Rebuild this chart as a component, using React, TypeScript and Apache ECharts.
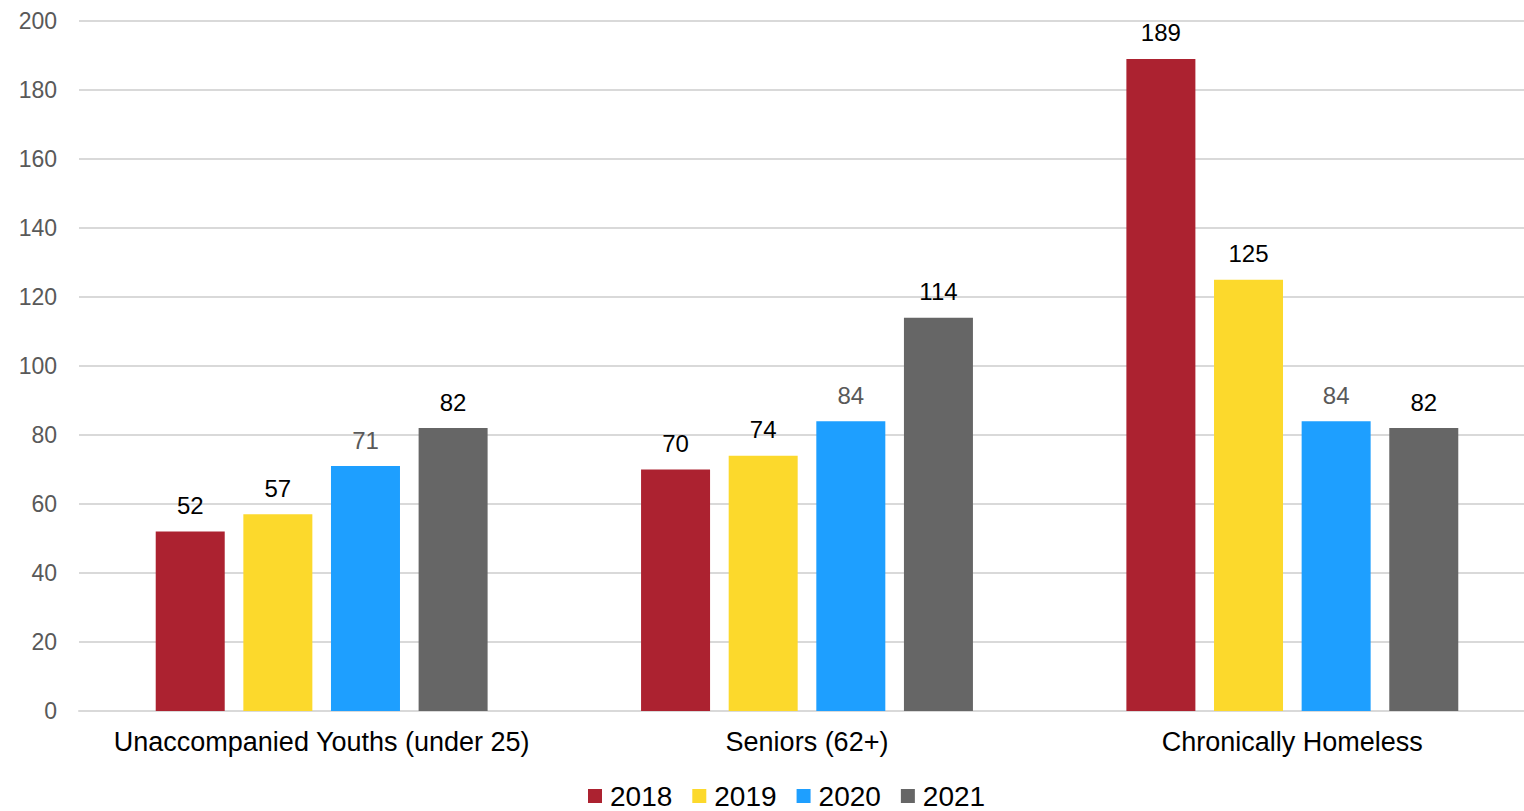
import React, { useEffect, useRef } from "react";
import * as echarts from "echarts";

const categories = ["Unaccompanied Youths (under 25)", "Seniors (62+)", "Chronically Homeless"];
const seriesNames = ["2018", "2019", "2020", "2021"];
const values2018 = [52, 70, 189];
const values2019 = [57, 74, 125];
const values2020 = [71, 84, 84];
const values2021 = [82, 114, 82];
const colors = ["#AC2230", "#FCD92C", "#1E9FFF", "#666666"];
const labelColors = ["#000000", "#000000", "#595959", "#000000"];
const yTicks = { min: 0, max: 200, interval: 20 };

const FONT = "'Liberation Sans', Arial, sans-serif";

export default function App() {
  const ref = useRef<HTMLDivElement>(null);
  useEffect(() => {
    document.body.style.margin = "0";
    document.body.style.overflow = "hidden";
    document.documentElement.style.overflow = "hidden";
    const chart = echarts.init(ref.current!, null, { renderer: "svg" });
    const allValues = [values2018, values2019, values2020, values2021];
    chart.setOption({
      animation: false,
      textStyle: { fontFamily: FONT },
      grid: { left: 79, right: 0, top: 21, bottom: 100, containLabel: false },
      legend: {
        top: 777,
        left: 583,
        itemWidth: 14,
        itemHeight: 14,
        itemGap: 20,
        icon: "rect",
        textStyle: { fontSize: 28, color: "#000", fontFamily: FONT, padding: [0, 0, 0, 3] },
        data: seriesNames,
      },
      xAxis: {
        type: "category",
        data: categories,
        axisLine: { show: true, lineStyle: { color: "#d9d9d9", width: 2 } },
        axisTick: { show: false },
        axisLabel: { interval: 0, fontSize: 27, color: "#000", margin: 17, fontFamily: FONT },
      },
      yAxis: {
        type: "value",
        min: yTicks.min,
        max: yTicks.max,
        interval: yTicks.interval,
        axisLine: { show: false },
        axisTick: { show: false },
        splitLine: { lineStyle: { color: "#d9d9d9", width: 2 } },
        axisLabel: { fontSize: 23, color: "#595959", margin: 22, fontFamily: FONT },
      },
      series: seriesNames.map((name, i) => ({
        name,
        type: "bar",
        data: allValues[i],
        barWidth: 69,
        barGap: "27%",
        itemStyle: { color: colors[i] },
        label: {
          show: true,
          position: "top",
          distance: 14,
          fontSize: 24,
          color: labelColors[i],
          fontFamily: FONT,
        },
      })),
    });
    return () => chart.dispose();
  }, []);
  return (
    <div
      ref={ref}
      style={{ position: "absolute", left: 0, top: 0, width: 1535, height: 811, background: "#fff" }}
    />
  );
}
